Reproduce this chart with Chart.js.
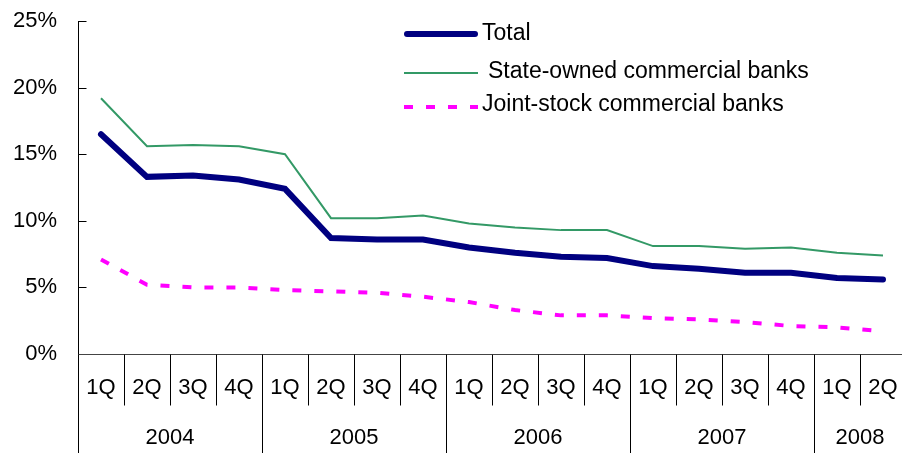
<!DOCTYPE html>
<html>
<head>
<meta charset="utf-8">
<script src="https://cdn.jsdelivr.net/npm/chart.js@4/dist/chart.umd.min.js"></script>
<style>
  html, body { margin: 0; padding: 0; background: #fff; overflow: hidden; }
  #wrap { width: 902px; height: 453px; overflow: hidden; }
</style>
</head>
<body>
<div id="wrap"><canvas id="chart" width="906" height="453"></canvas></div>
<script>
const quarters = ['1Q', '2Q', '3Q', '4Q', '1Q', '2Q', '3Q', '4Q', '1Q', '2Q', '3Q', '4Q',
                  '1Q', '2Q', '3Q', '4Q', '1Q', '2Q'];
const years = ['2004', '2005', '2006', '2007', '2008'];
const quartersPerYear = [4, 4, 4, 4, 2];

const total = [16.5, 13.3, 13.4, 13.1, 12.4, 8.7, 8.6, 8.6, 8.0, 7.6, 7.3, 7.2, 6.6, 6.4, 6.1, 6.1, 5.7, 5.6];
const stateOwned = [19.2, 15.6, 15.7, 15.6, 15.0, 10.2, 10.2, 10.4, 9.8, 9.5, 9.3, 9.3, 8.1, 8.1, 7.9, 8.0, 7.6, 7.4];
const jointStock = [7.1, 5.2, 5.0, 5.0, 4.8, 4.7, 4.6, 4.3, 3.9, 3.3, 2.9, 2.9, 2.7, 2.6, 2.4, 2.1, 2.0, 1.7];

const FONT = '"Liberation Sans", Arial, sans-serif';

// ejes, separadores de años y leyenda dibujados a mano
const decor = {
    id: 'decor',
    afterDraw(chart) {
        const ctx = chart.ctx;
        const area = chart.chartArea;
        const x = chart.scales.x;
        const y = chart.scales.y;
        const h = chart.height;
        const half = (x.getPixelForValue(1) - x.getPixelForValue(0)) / 2;
        const crisp = v => Math.round(v) + 0.5;
        const line = (x1, y1, x2, y2) => {
            ctx.beginPath();
            ctx.moveTo(x1, y1);
            ctx.lineTo(x2, y2);
            ctx.stroke();
        };

        ctx.save();
        ctx.strokeStyle = '#000';
        ctx.lineWidth = 1;

        const left = crisp(area.left);
        const bottom = crisp(area.bottom);
        line(left, area.top, left, h);
        y.ticks.forEach(t => {
            const py = crisp(y.getPixelForValue(t.value));
            line(left, py, left + 8, py);
        });
        ctx.strokeStyle = '#444';
        line(left, bottom, area.right, bottom);
        ctx.strokeStyle = '#000';

        ctx.fillStyle = '#000';
        ctx.font = '22px ' + FONT;
        ctx.textAlign = 'center';
        ctx.textBaseline = 'middle';
        let idx = 0;
        years.forEach((year, k) => {
            const start = idx;
            const end = idx + quartersPerYear[k] - 1;
            for (let i = start + 1; i <= end; i++) {
                const px = crisp(x.getPixelForValue(i) - half);
                line(px, bottom, px, bottom + 51);
            }
            const x0 = x.getPixelForValue(start) - half;
            const x1 = x.getPixelForValue(end) + half;
            if (k > 0) line(crisp(x0), bottom, crisp(x0), h);
            ctx.fillText(year, (x0 + x1) / 2, 438);
            idx = end + 1;
        });

        // leyenda
        const rowsLine = [34, 73, 107];
        const rowsText = [34, 72, 105];
        const textX = [482, 488, 482];
        ctx.font = '23px ' + FONT;
        ctx.textAlign = 'left';
        chart.data.datasets.forEach((ds, i) => {
            ctx.save();
            ctx.strokeStyle = ds.borderColor;
            ctx.lineWidth = ds.borderWidth;
            ctx.lineCap = ds.borderCapStyle || 'butt';
            ctx.setLineDash(ds.borderDash || []);
            const inset = ds.borderCapStyle === 'round' ? ds.borderWidth / 2 : 0;
            line(404 + inset, rowsLine[i], 478 - inset, rowsLine[i]);
            ctx.restore();
            ctx.fillText(ds.label, textX[i], rowsText[i]);
        });
        ctx.restore();
    }
};

const ctx = document.getElementById('chart').getContext('2d');
const myChart = new Chart(ctx, {
    type: 'line',
    data: {
        labels: quarters,
        datasets: [{
            label: 'Total',
            data: total,
            borderColor: '#000080',
            borderWidth: 6,
            borderCapStyle: 'round'
        }, {
            label: 'State-owned commercial banks',
            data: stateOwned,
            borderColor: '#339966',
            borderWidth: 2
        }, {
            label: 'Joint-stock commercial banks',
            data: jointStock,
            borderColor: '#ff00ff',
            borderWidth: 4,
            borderDash: [9, 13]
        }]
    },
    options: {
        responsive: false,
        devicePixelRatio: 1,
        animation: false,
        layout: { padding: { top: 21, right: 0, bottom: 0, left: 0 } },
        elements: {
            point: { radius: 0 },
            line: { tension: 0, fill: false }
        },
        plugins: {
            legend: { display: false },
            tooltip: { enabled: false }
        },
        scales: {
            x: {
                offset: true,
                grid: { display: false, drawTicks: false },
                border: { display: false },
                ticks: {
                    color: '#000',
                    font: { family: FONT, size: 22 },
                    padding: 21,
                    maxRotation: 0,
                    autoSkip: false
                },
                afterFit: scale => {
                    scale.height = 99;
                    scale.paddingLeft = 0;
                    scale.paddingRight = 0;
                }
            },
            y: {
                min: 0,
                max: 25,
                grid: { display: false, drawTicks: false },
                border: { display: false },
                ticks: {
                    stepSize: 5,
                    color: '#000',
                    font: { family: FONT, size: 22 },
                    padding: 21,
                    callback: v => v + '%'
                },
                afterFit: scale => {
                    scale.width = 78;
                    scale.paddingTop = 0;
                    scale.paddingBottom = 0;
                }
            }
        }
    },
    plugins: [decor]
});
</script>
</body>
</html>
